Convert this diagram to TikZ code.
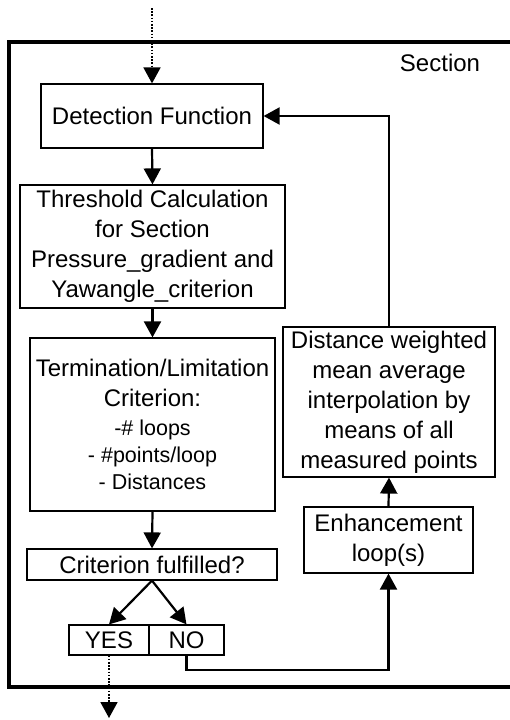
\documentclass[tikz,border=0pt]{standalone}
\usepackage{fontspec}
\setmainfont{Liberation Sans}
\usetikzlibrary{arrows.meta}
\begin{document}
\begin{tikzpicture}[x=1pt,y=1pt,
  box/.style={draw, line width=1.2pt, inner sep=0pt, align=center,
    font=\fontsize{24}{30}\selectfont},
  flow/.style={line width=2.2pt, -{Triangle[width=17pt,length=16pt]}},
  dotflow/.style={line width=1.8pt, dash pattern=on 1.6pt off 1.6pt,
    -{Triangle[width=17pt,length=16pt]}},
  frame/.style={line width=3.3pt}]
\useasboundingbox (0,0) rectangle (510,-720);

% section frame (its right side runs off the page)
\draw[frame] (9,-42) rectangle (530,-687);
\node[font=\fontsize{24}{30}\selectfont] (sec) at (440,-63) {Section};

% process boxes
\node[box, minimum width=222, minimum height=64] (det) at (152,-116) {Detection Function};
\node[box, minimum width=265, minimum height=123] (thr) at (152.5,-246.5)
  {Threshold Calculation\\for Section\\Pressure\_gradient and\\Yawangle\_criterion};
\node[box, minimum width=245, minimum height=173] (term) at (152.5,-424.5)
  {Termination/Limitation\\Criterion:\\[-1pt]
   \fontsize{21.5}{27}\selectfont -\# loops\\[-3pt]
   \fontsize{21.5}{27}\selectfont - \#points/loop\\[-3pt]
   \fontsize{21.5}{27}\selectfont - Distances};
\node[box, minimum width=250, minimum height=31] (crit) at (152,-564.5) {Criterion fulfilled?};
\node[box, minimum width=80, minimum height=30] (yes) at (109,-640) {YES};
\node[box, minimum width=75, minimum height=30] (no) at (186.5,-640) {NO};
\node[box, minimum width=169, minimum height=66] (enh) at (388.5,-540) {Enhancement\\loop(s)};
\node[box, minimum width=212, minimum height=150] (dist) at (389,-402)
  {Distance weighted\\mean average\\interpolation by\\means of all\\measured points};

% entry and exit
\coordinate (in) at (152,-8);
\coordinate (out) at (yes.south |- 0,-718);
\draw[dotflow] (in) -- (det.north);
\draw[dotflow] (yes.south) -- (out);

% main flow
\draw[flow] (det.south) -- (thr.north);
\draw[flow] (thr.south) -- (term.north);
\draw[flow] (term.south) -- (crit.north);
\draw[flow] (crit.south) -- (yes.north);
\draw[flow] (crit.south) -- (no.north);

% enhancement loop back to detection
\draw[flow] (no.south) -- ++(0,-14) -| (enh.south);
\draw[flow] (enh.north) -- (dist.south);
\draw[flow] (dist.north) |- (det.east);
\end{tikzpicture}
\end{document}
